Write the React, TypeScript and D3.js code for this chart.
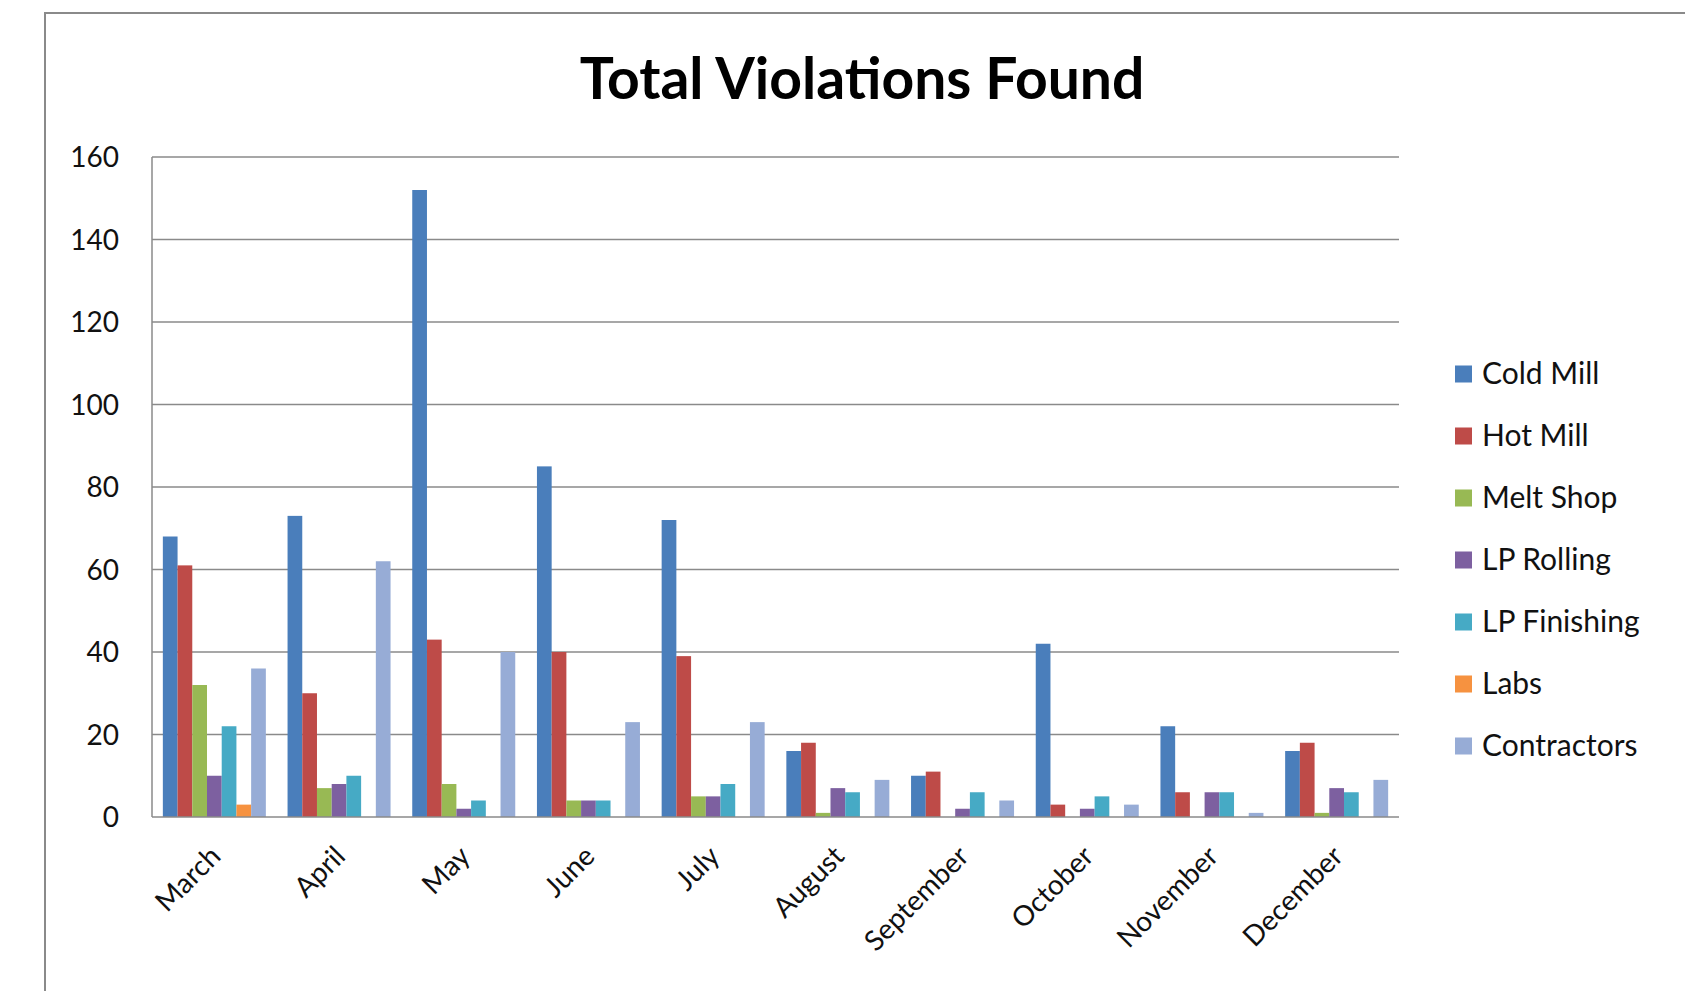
import { useEffect, useRef } from 'react'
import * as d3 from 'd3'

const months = ['March', 'April', 'May', 'June', 'July', 'August', 'September', 'October', 'November', 'December']
const seriesNames = ['Cold Mill', 'Hot Mill', 'Melt Shop', 'LP Rolling', 'LP Finishing', 'Labs', 'Contractors']
const colors = ['#4a7ebb', '#be4b48', '#98b954', '#7d60a0', '#46aac5', '#f69240', '#97acd6']

const coldMill = [68, 73, 152, 85, 72, 16, 10, 42, 22, 16]
const hotMill = [61, 30, 43, 40, 39, 18, 11, 3, 6, 18]
const meltShop = [32, 7, 8, 4, 5, 1, 0, 0, 0, 1]
const lpRolling = [10, 8, 2, 4, 5, 7, 2, 2, 6, 7]
const lpFinishing = [22, 10, 4, 4, 8, 6, 6, 5, 6, 6]
const labs = [3, 0, 0, 0, 0, 0, 0, 0, 0, 0]
const contractors = [36, 62, 40, 23, 23, 9, 4, 3, 1, 9]

const yTicks = [0, 20, 40, 60, 80, 100, 120, 140, 160]

const allSeries = [coldMill, hotMill, meltShop, lpRolling, lpFinishing, labs, contractors]

const App = () => {
    const svgRef = useRef<SVGSVGElement>(null)

    useEffect(() => {
        if (!svgRef.current) return
        const svg = d3.select(svgRef.current)
        svg.selectAll('*').remove()

        const plot = { left: 152, right: 1399, top: 157, bottom: 817 }
        const font = 'Lato, "Open Sans", sans-serif'

        // chart frame (only top and left edges fall inside the picture)
        svg.append('rect')
            .attr('x', 45)
            .attr('y', 13)
            .attr('width', 1700)
            .attr('height', 1100)
            .attr('fill', '#fff')
            .attr('stroke', '#8a8a8a')
            .attr('stroke-width', 2)

        svg.append('text')
            .attr('x', 862)
            .attr('y', 99)
            .attr('text-anchor', 'middle')
            .attr('font-family', font)
            .attr('font-weight', 700)
            .attr('font-size', 57)
            .attr('fill', '#000')
            .text('Total Violations Found')

        const x0 = d3
            .scaleBand<string>()
            .domain(months)
            .range([plot.left, plot.right])
            .paddingInner(0.174)
            .paddingOuter(0.087)

        const x1 = d3
            .scaleBand<string>()
            .domain(seriesNames)
            .range([0, x0.bandwidth()])

        const y = d3.scaleLinear().domain([0, 160]).range([plot.bottom, plot.top])

        // gridlines
        svg.append('g')
            .selectAll('line')
            .data(yTicks.slice(1))
            .join('line')
            .attr('x1', plot.left)
            .attr('x2', plot.right)
            .attr('y1', d => y(d))
            .attr('y2', d => y(d))
            .attr('stroke', '#8a8a8a')
            .attr('stroke-width', 1.5)

        // y labels
        svg.append('g')
            .selectAll('text')
            .data(yTicks)
            .join('text')
            .attr('x', 119)
            .attr('y', d => y(d) + 10)
            .attr('text-anchor', 'end')
            .attr('font-family', font)
            .attr('font-size', 28)
            .attr('fill', '#111')
            .text(d => d)

        // bars
        const groups = svg
            .append('g')
            .selectAll('g')
            .data(months)
            .join('g')
            .attr('transform', d => `translate(${x0(d)},0)`)

        groups
            .selectAll('rect')
            .data((_, i) => allSeries.map((s, k) => ({ name: seriesNames[k], value: s[i], color: colors[k] })))
            .join('rect')
            .attr('x', d => x1(d.name)!)
            .attr('width', x1.bandwidth())
            .attr('y', d => y(d.value))
            .attr('height', d => y(0) - y(d.value))
            .attr('fill', d => d.color)

        // axes lines
        svg.append('line')
            .attr('x1', plot.left)
            .attr('x2', plot.left)
            .attr('y1', plot.top)
            .attr('y2', plot.bottom)
            .attr('stroke', '#8a8a8a')
            .attr('stroke-width', 1.5)
        svg.append('line')
            .attr('x1', plot.left)
            .attr('x2', plot.right)
            .attr('y1', plot.bottom)
            .attr('y2', plot.bottom)
            .attr('stroke', '#8a8a8a')
            .attr('stroke-width', 1.5)

        // x labels, rotated
        svg.append('g')
            .selectAll('text')
            .data(months)
            .join('text')
            .attr('transform', d => {
                const cx = x0(d)! + x0.bandwidth() / 2 + 8
                return `translate(${cx},858) rotate(-45)`
            })
            .attr('text-anchor', 'end')
            .attr('font-family', font)
            .attr('font-size', 28)
            .attr('fill', '#111')
            .text(d => d)

        // legend
        const legend = svg
            .append('g')
            .selectAll('g')
            .data(seriesNames)
            .join('g')
            .attr('transform', (_, i) => `translate(1455,${374 + i * 62})`)

        legend
            .append('rect')
            .attr('x', 0)
            .attr('y', -8.5)
            .attr('width', 17)
            .attr('height', 17)
            .attr('fill', (_, i) => colors[i])

        legend
            .append('text')
            .attr('x', 27)
            .attr('y', 10)
            .attr('font-family', font)
            .attr('font-size', 30)
            .attr('fill', '#111')
            .text(d => d)
    }, [])

    return (
        <div style={{ position: 'fixed', left: 0, top: 0, background: '#fff' }}>
            <svg ref={svgRef} width={1685} height={991}></svg>
        </div>
    )
}

export default App
